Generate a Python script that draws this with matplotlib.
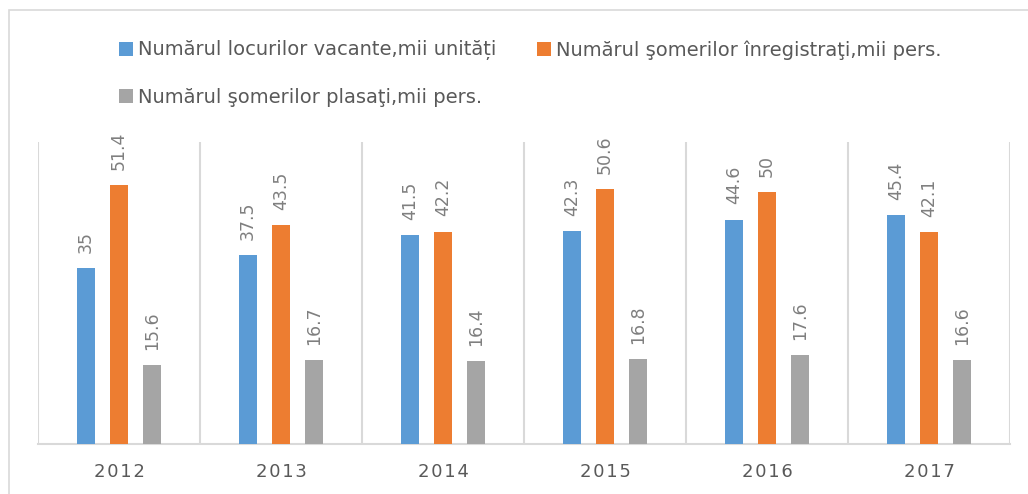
import matplotlib
matplotlib.use("Agg")
import matplotlib.pyplot as plt
from matplotlib.patches import Rectangle
import numpy as np

years = ["2012", "2013", "2014", "2015", "2016", "2017"]
series_names = [
    "Numărul locurilor vacante,mii unități",
    "Numărul şomerilor înregistraţi,mii pers.",
    "Numărul şomerilor plasaţi,mii pers.",
]
vacante = [35, 37.5, 41.5, 42.3, 44.6, 45.4]
inregistrati = [51.4, 43.5, 42.2, 50.6, 50, 42.1]
plasati = [15.6, 16.7, 16.4, 16.8, 17.6, 16.6]
colors = ["#5b9bd5", "#ed7d31", "#a5a5a5"]

plt.rcParams["font.family"] = ["DejaVu Sans"]

W, H = 1028, 494
fig = plt.figure(figsize=(W / 100, H / 100), dpi=100)
ax = fig.add_axes([38 / W, 1 - 444 / H, (1010 - 38) / W, (444 - 142) / H])

x = np.arange(len(years))
offsets = [-0.205, 0.0, 0.205]
width = 0.108
handles = []
for vals, off, c, name in zip([vacante, inregistrati, plasati], offsets, colors, series_names):
    bars = ax.bar(x + off, vals, width=width, color=c, label=name, zorder=3)
    handles.append(bars)
    for b, v in zip(bars, vals):
        ax.annotate(f"{v:g}", (b.get_x() + b.get_width() / 2, b.get_height()),
                    xytext=(0, 11), textcoords="offset points",
                    rotation=90, ha="center", va="bottom",
                    fontsize=12.5, color="#7f7f7f")

ax.set_xlim(-0.5, len(years) - 0.5)
ax.set_ylim(0, 60)
ax.set_yticks([])
ax.set_xticks(x)
ax.set_xticklabels(["\u200a".join(y) for y in years], fontsize=13, color="#595959")
ax.set_xticks(np.arange(len(years) + 1) - 0.5, minor=True)
ax.tick_params(axis="x", which="both", length=0, pad=14)
ax.grid(axis="x", which="minor", color="#d9d9d9", linewidth=1.5, zorder=0)
ax.grid(axis="x", which="major", visible=False)
for s in ["top", "left", "right"]:
    ax.spines[s].set_visible(False)
ax.spines["bottom"].set_color("#d9d9d9")
ax.spines["bottom"].set_linewidth(1.5)

leg = fig.legend([handles[0], handles[2], handles[1]],
                 [series_names[0], series_names[2], series_names[1]],
                 ncol=2, loc="upper left", bbox_to_anchor=(119 / W, 1 - 40 / H),
                 frameon=False, fontsize=14, labelcolor="#595959",
                 handlelength=0.72, handleheight=0.72, handletextpad=0.25,
                 columnspacing=2.1, labelspacing=1.4, borderaxespad=0, borderpad=0)

fig.add_artist(Rectangle((9 / W, -0.1), 1.2, 1 - 10 / H + 0.1, transform=fig.transFigure,
                         fill=False, edgecolor="#d9d9d9", linewidth=1.2, clip_on=False))

fig.savefig("out.png", dpi=100, facecolor="white")
